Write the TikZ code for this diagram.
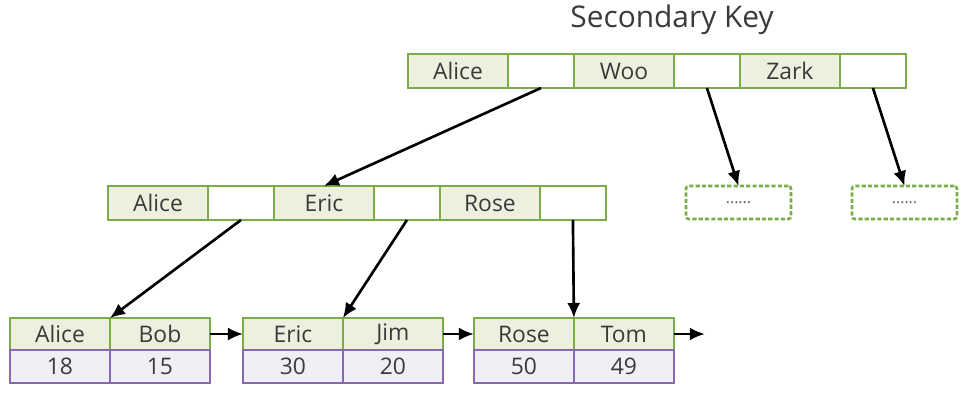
\documentclass[tikz,border=0pt]{standalone}
\usepackage{fontspec}
\setmainfont{Open Sans}
\usetikzlibrary{arrows.meta,positioning}
\definecolor{keygreen}{HTML}{7AAD48}
\definecolor{keyfill}{HTML}{EBF1DE}
\definecolor{valpurple}{HTML}{8A68B0}
\definecolor{valfill}{HTML}{F1EFF6}
\definecolor{txtgray}{HTML}{3A3A3A}
\tikzset{
  keycell/.style={rectangle, draw=keygreen, line width=1.5pt, fill=keyfill,
    text=txtgray, font=\fontsize{13}{15}\selectfont,
    minimum width=2cm, minimum height=0.68cm, inner sep=0pt, outer sep=0pt},
  ptrcell/.style={keycell, fill=white, minimum width=1.32cm},
  leafkey/.style={keycell, minimum height=0.64cm},
  leafval/.style={keycell, draw=valpurple, fill=valfill, minimum height=0.66cm},
  dashbox/.style={rectangle, rounded corners=1.5pt, draw=keygreen, line width=1.5pt,
    dash pattern=on 2.4pt off 1.2pt, fill=white, text=txtgray!80,
    font=\fontsize{9}{11}\selectfont, minimum width=2.1cm,
    minimum height=0.66cm, inner sep=0pt, outer sep=0pt},
  arr/.style={-{Latex[length=3mm,width=2.6mm]}, line width=1.5pt, black},
}

\begin{document}
\begin{tikzpicture}[x=0.02cm, y=-0.02cm]
\useasboundingbox (0,0) rectangle (976,410);

% ---------------- TITLE ----------------
\node[font=\fontsize{17}{20}\selectfont, text=txtgray] (title) at (672,20) {Secondary Key};

% ---------------- ROOT NODE ----------------
\node[keycell, anchor=north west] (t-alice) at (408,54) {Alice};
\node[ptrcell, right=0pt of t-alice] (t-p1) {};
\node[keycell, right=0pt of t-p1]    (t-woo) {Woo};
\node[ptrcell, right=0pt of t-woo]   (t-p2) {};
\node[keycell, right=0pt of t-p2]    (t-zark) {Zark};
\node[ptrcell, right=0pt of t-zark]  (t-p3) {};

% ---------------- INNER NODES ----------------
\node[keycell, anchor=north west] (m-alice) at (108,186) {Alice};
\node[ptrcell, right=0pt of m-alice] (m-p1) {};
\node[keycell, right=0pt of m-p1]    (m-eric) {Eric};
\node[ptrcell, right=0pt of m-eric]  (m-p2) {};
\node[keycell, right=0pt of m-p2]    (m-rose) {Rose};
\node[ptrcell, right=0pt of m-rose]  (m-p3) {};

\node[dashbox, anchor=north west] (m-dots1) at (686,186) {......};
\node[dashbox, anchor=north west] (m-dots2) at (852,186) {......};

% ---------------- LEAVES ----------------
\node[leafkey, anchor=north west] (l1-alice) at (10,318) {Alice};
\node[leafkey, right=0pt of l1-alice] (l1-bob) {Bob};
\node[leafval, below=0pt of l1-alice] (l1-v1) {18};
\node[leafval, below=0pt of l1-bob]   (l1-v2) {15};

\node[leafkey, right=0.66cm of l1-bob] (l2-eric) {Eric};
\node[leafkey, right=0pt of l2-eric]   (l2-jim) {Jim};
\node[leafval, below=0pt of l2-eric]   (l2-v1) {30};
\node[leafval, below=0pt of l2-jim]    (l2-v2) {20};

\node[leafkey, right=0.62cm of l2-jim] (l3-rose) {Rose};
\node[leafkey, right=0pt of l3-rose]   (l3-tom) {Tom};
\node[leafval, below=0pt of l3-rose]   (l3-v1) {50};
\node[leafval, below=0pt of l3-tom]    (l3-v2) {49};

\coordinate[right=0.62cm of l3-tom] (l-next);

% ---------------- POINTERS ----------------
\draw[arr] (t-p1.south) -- (m-eric.north);
\draw[arr] (t-p2.south) -- (m-dots1.north);
\draw[arr] (t-p3.south) -- (m-dots2.north);
\draw[arr] (m-p1.south) -- (l1-alice.north east);
\draw[arr] (m-p2.south) -- (l2-eric.north east);
\draw[arr] (m-p3.south) -- (l3-rose.north east);

% ---- leaf links ----
\draw[arr] (l1-bob.east) -- (l2-eric.west);
\draw[arr] (l2-jim.east) -- (l3-rose.west);
\draw[arr] (l3-tom.east) -- (l-next);

\end{tikzpicture}
\end{document}
